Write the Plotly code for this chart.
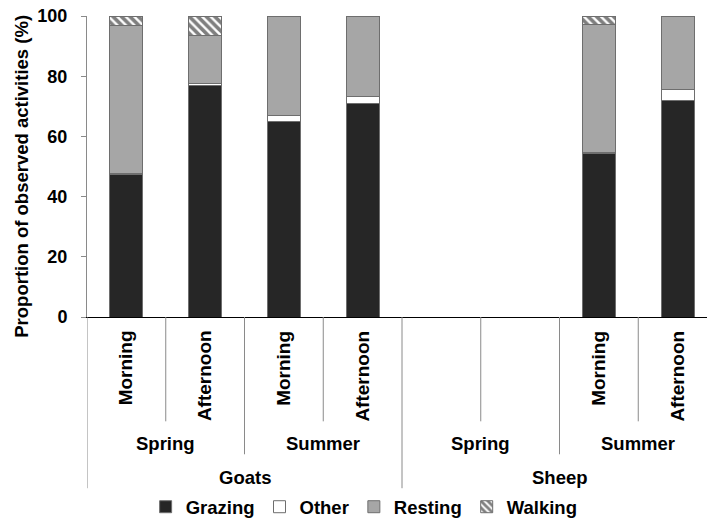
import plotly.graph_objects as go

# Activity budget by species, season and time of day (% of observations)
species = ["Goats", "Goats", "Goats", "Goats", "Sheep", "Sheep", "Sheep", "Sheep"]
seasons = ["Spring", "Spring", "Summer", "Summer", "Spring", "Spring", "Summer", "Summer"]
times = ["Morning", "Afternoon", "Morning", "Afternoon", "", "", "Morning", "Afternoon"]

grazing = [47.3, 77.0, 64.8, 71.0, None, None, 54.4, 72.0]
other = [0.3, 0.6, 2.0, 2.2, None, None, 0.3, 3.7]
resting = [49.4, 16.0, 33.2, 26.8, None, None, 42.5, 24.3]
walking = [3.0, 6.4, 0.0, 0.0, None, None, 2.8, 0.0]

y_ticks = [0, 20, 40, 60, 80, 100]

FONT = dict(family="Liberation Sans, Arial, sans-serif", size=18, color="#000000", weight="bold")
EDGE = "#6e6e6e"
DIVIDER = "#8a8a8a"

# plot area geometry in pixels (fig is 707 x 521)
W, H = 707, 521
L, T, B = 87, 16, 203.5
plot_h = H - T - B
slot_px = 78.75  # one category slot
x_pos = list(range(len(times)))
x_max = -0.5 + (W - L) / slot_px


def py(px_from_top):
    """Pixel row -> paper y."""
    return 1 - (px_from_top - T) / plot_h


fig = go.Figure()

series = [
    ("Grazing", grazing, dict(color="#262626")),
    ("Other", other, dict(color="#ffffff")),
    ("Resting", resting, dict(color="#a6a6a6")),
    ("Walking", walking, dict(color="#ffffff",
                              pattern=dict(shape="\\", fgcolor="#000000", bgcolor="#ffffff",
                                           size=6, solidity=0.6))),
]
for name, vals, mk in series:
    fig.add_trace(go.Bar(
        x=x_pos, y=vals, name=name, width=0.42,
        marker=dict(line=dict(color=EDGE, width=1), **mk),
    ))

annotations = []
shapes = []

# time-of-day labels (rotated)
for i, t in enumerate(times):
    if t:
        annotations.append(dict(x=i, y=py(329), xref="x", yref="paper", text=t,
                                textangle=-90, showarrow=False, xanchor="center",
                                yanchor="top", font=dict(size=19)))

# season labels, one per pair of slots
for k in range(0, len(seasons), 2):
    annotations.append(dict(x=k + 0.5, y=py(444), xref="x", yref="paper", text=seasons[k],
                            showarrow=False, xanchor="center", yanchor="middle",
                            font=dict(size=18.5)))

# species labels, one per group of four
for k in range(0, len(species), 4):
    annotations.append(dict(x=k + 1.5, y=py(478), xref="x", yref="paper", text=species[k],
                            showarrow=False, xanchor="center", yanchor="middle",
                            font=dict(size=18.5)))

# y-axis title
annotations.append(dict(x=(22 - L) / (W - L), y=py(177), xref="paper", yref="paper",
                        text="Proportion of observed activities (%)", textangle=-90,
                        showarrow=False, xanchor="center", yanchor="middle",
                        font=dict(size=18.5)))

# category divider lines below the axis
for b in range(len(times) + 1):
    xb = b - 0.5
    if b % 4 == 0:
        bottom = 489
    elif b % 2 == 0:
        bottom = 455
    else:
        bottom = 422
    shapes.append(dict(type="line", xref="x", yref="paper", x0=xb, x1=xb,
                       y0=py(317.5), y1=py(bottom), line=dict(color=DIVIDER, width=1)))

fig.update_layout(
    width=W, height=H,
    margin=dict(l=L, r=0, t=T, b=B, autoexpand=False),
    paper_bgcolor="#ffffff", plot_bgcolor="#ffffff",
    font=FONT,
    barmode="stack",
    showlegend=True,
    legend=dict(orientation="h", traceorder="normal", x=0.447, xanchor="center",
                y=py(508), yanchor="middle", font=dict(size=18.5), itemwidth=30,
                tracegroupgap=0, bgcolor="rgba(0,0,0,0)"),
    annotations=annotations,
    shapes=shapes,
)

fig.update_xaxes(range=[-0.5, x_max], showticklabels=False, ticks="", showgrid=False,
                 zeroline=False, showline=True, linecolor="#000000", linewidth=1)
fig.update_yaxes(range=[0, 100], tickvals=y_ticks, ticks="outside", ticklen=5,
                 tickcolor=DIVIDER, showgrid=False, zeroline=False, showline=True,
                 linecolor=DIVIDER, linewidth=1, ticklabelstandoff=10,
                 tickfont=dict(size=18))

fig.write_html("out.html")
